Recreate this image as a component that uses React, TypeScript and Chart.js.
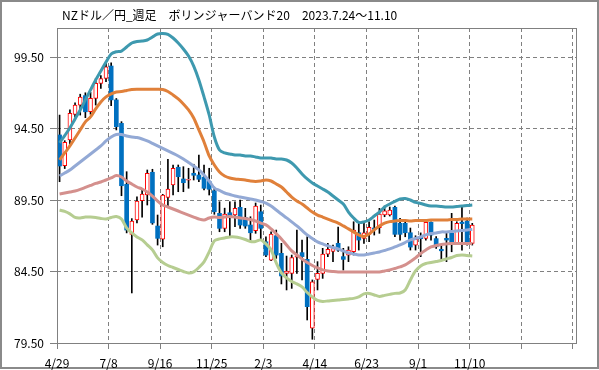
import React, { useEffect, useRef } from 'react';
import { Chart, registerables } from 'chart.js';

Chart.register(...registerables);

const chartTitle = 'NZドル／円_週足　ボリンジャーバンド20　2023.7.24〜11.10';
const xTickLabels = ['4/29', '7/8', '9/16', '11/25', '2/3', '4/14', '6/23', '9/1', '11/10', '', ''];
const yTickValues = [79.5, 84.5, 89.5, 94.5, 99.5];

const openP = [
  94.05, 91.9, 93.7, 95.49, 96.14, 96.8, 95.67, 96.61, 97.66, 98.0,
  98.87, 96.5, 94.86, 90.6, 87.1, 88.1, 89.45, 89.85, 91.44, 87.68,
  86.77, 89.69, 90.55, 91.79, 90.97, 90.88, 91.37, 91.25, 91.1, 90.8,
  90.15, 88.57, 87.52, 88.61, 88.45, 88.99, 88.29, 87.75, 87.35, 88.68,
  86.58, 85.3, 87.0, 85.77, 84.37, 84.37, 85.5, 85.82, 85.35, 80.53,
  83.95, 84.37, 85.72, 85.9, 86.47, 85.54, 85.65, 85.88, 87.21, 86.82,
  87.1, 87.54, 87.56, 88.45, 88.45, 88.99, 87.87, 87.87, 87.21, 86.35,
  86.9, 86.82, 87.94, 86.8, 86.05, 86.82, 87.17, 86.47, 87.95, 88.03,
  86.47,
];
const highP = [
  95.44, 93.65, 95.8, 96.3, 96.9, 97.0, 97.03, 98.0, 98.2, 99.06,
  99.1, 96.6, 94.98, 91.48, 88.2, 89.73, 90.32, 91.6, 91.65, 88.45,
  89.9, 92.35, 91.95, 91.95, 91.83, 91.72, 92.0, 92.65, 91.95, 91.72,
  90.4, 89.38, 88.93, 89.38, 89.38, 89.5, 88.92, 88.33, 89.29, 89.15,
  86.93, 87.28, 87.4, 86.47, 85.58, 85.65, 87.4, 86.7, 86.93, 83.91,
  85.19, 86.12, 86.47, 86.35, 87.6, 86.12, 86.23, 87.98, 87.98, 87.98,
  87.98, 88.1, 88.92, 89.08, 89.01, 89.08, 88.22, 88.15, 87.54, 87.0,
  87.2, 88.05, 87.98, 86.94, 86.35, 87.28, 88.57, 87.98, 89.08, 88.24,
  87.87,
];
const lowP = [
  90.78, 91.7, 93.4, 95.3, 95.44, 95.26, 95.5, 96.14, 97.3, 97.77,
  96.1, 94.4, 89.8, 87.2, 83.0, 87.9, 88.3, 89.15, 87.8, 86.35,
  86.23, 89.03, 89.85, 90.08, 90.08, 90.32, 90.9, 90.78, 90.2, 89.85,
  88.5, 87.28, 87.28, 87.0, 87.63, 87.52, 87.52, 86.58, 87.17, 86.7,
  85.54, 85.26, 85.42, 83.63, 83.21, 83.32, 84.37, 83.91, 81.11, 79.76,
  83.21, 84.02, 85.54, 85.19, 85.9, 84.6, 85.19, 85.65, 86.0, 86.47,
  86.58, 87.05, 87.17, 88.33, 88.38, 86.93, 86.7, 86.93, 86.0, 86.0,
  85.54, 86.7, 86.7, 86.12, 85.3, 85.19, 85.88, 86.47, 86.0, 86.35,
  86.35,
];
const closeP = [
  91.88, 93.53, 95.56, 96.14, 96.7, 95.67, 96.61, 97.66, 98.0, 98.82,
  96.5, 94.63, 90.5, 87.4, 88.03, 89.43, 89.92, 91.37, 87.9, 86.82,
  89.85, 90.27, 91.72, 91.13, 90.71, 90.93, 91.23, 90.95, 90.32, 90.25,
  88.68, 87.52, 88.52, 88.33, 88.92, 87.75, 87.68, 87.21, 89.08, 87.52,
  85.65, 87.12, 85.65, 84.19, 84.53, 85.47, 85.6, 85.54, 82.04, 83.77,
  84.37, 85.72, 86.05, 86.1, 86.0, 85.35, 86.0, 87.4, 86.7, 87.21,
  87.59, 87.45, 88.52, 88.75, 88.8, 87.1, 87.1, 87.21, 86.21, 86.75,
  86.8, 87.94, 87.05, 86.23, 85.95, 86.7, 86.47, 87.87, 87.85, 86.47,
  87.75,
];

const upper2 = [
  93.49, 94.01, 94.54, 95.17, 95.8, 96.5, 97.2, 97.9, 98.52, 99.15,
  99.71, 99.87, 99.92, 100.2, 100.48, 100.59, 100.62, 100.69, 100.9, 101.11,
  101.15, 101.08, 100.83, 100.48, 100.06, 99.57, 98.87, 97.9, 96.71, 95.45,
  93.91, 93.0, 92.79, 92.72, 92.65, 92.65, 92.58, 92.58, 92.51, 92.44,
  92.44, 92.44, 92.37, 92.37, 92.3, 92.09, 91.74, 91.32, 90.97, 90.69,
  90.48, 90.27, 90.06, 89.78, 89.5, 89.22, 88.66, 88.24, 87.93, 87.97,
  88.1, 88.38, 88.66, 89.01, 89.22, 89.4, 89.57, 89.61, 89.5, 89.33,
  89.26, 89.15, 89.08, 89.08, 89.05, 89.01, 89.01, 89.05, 89.08, 89.12,
  89.15,
];
const upper1 = [
  92.3, 92.79, 93.28, 93.84, 94.4, 94.96, 95.31, 95.87, 96.36, 96.71,
  96.92, 97.06, 97.09, 97.16, 97.23, 97.25, 97.25, 97.25, 97.25, 97.25,
  97.23, 97.09, 96.85, 96.57, 96.22, 95.8, 95.24, 94.4, 93.56, 92.58,
  91.95, 91.46, 91.18, 91.04, 90.97, 90.94, 90.9, 90.83, 90.8, 90.83,
  90.9, 90.83, 90.62, 90.41, 90.06, 89.71, 89.43, 89.22, 88.94, 88.66,
  88.45, 88.31, 88.17, 88.03, 87.89, 87.69, 87.48, 87.27, 87.06, 86.95,
  87.13, 87.41, 87.69, 87.89, 87.99, 88.03, 88.07, 88.07, 88.03, 88.07,
  88.07, 88.07, 88.1, 88.1, 88.1, 88.1, 88.14, 88.14, 88.17, 88.17,
  88.17,
];
const middle = [
  91.18, 91.39, 91.6, 91.88, 92.16, 92.44, 92.72, 93.0, 93.28, 93.63,
  93.91, 94.08, 94.08, 93.98, 93.91, 93.87, 93.77, 93.63, 93.46, 93.28,
  93.11, 92.93, 92.76, 92.58, 92.37, 92.13, 91.88, 91.6, 91.25, 90.83,
  90.34, 90.17, 89.99, 89.89, 89.78, 89.71, 89.64, 89.57, 89.5, 89.4,
  89.29, 89.08, 88.8, 88.52, 88.25, 87.97, 87.69, 87.37, 87.06, 86.81,
  86.57, 86.43, 86.29, 86.18, 86.08, 85.94, 85.8, 85.73, 85.66, 85.66,
  85.73, 85.8, 85.87, 85.97, 86.08, 86.22, 86.36, 86.53, 86.71, 86.81,
  86.92, 87.06, 87.16, 87.2, 87.27, 87.27, 87.3, 87.34, 87.37, 87.41,
  87.44,
];
const lower1 = [
  89.92, 89.99, 90.06, 90.13, 90.24, 90.38, 90.52, 90.66, 90.76, 90.9,
  91.04, 91.22, 91.11, 90.83, 90.62, 90.41, 90.27, 90.06, 89.78, 89.43,
  89.15, 89.01, 88.87, 88.73, 88.59, 88.45, 88.31, 88.17, 88.1, 88.24,
  88.31, 88.28, 88.31, 88.35, 88.31, 88.24, 88.21, 88.14, 88.03, 87.89,
  87.76, 87.48, 87.13, 86.78, 86.36, 85.94, 85.66, 85.38, 85.13, 84.92,
  84.75, 84.61, 84.54, 84.5, 84.47, 84.47, 84.47, 84.47, 84.47, 84.47,
  84.47, 84.47, 84.47, 84.54, 84.61, 84.71, 84.82, 84.96, 85.2, 85.45,
  85.76, 86.01, 86.22, 86.32, 86.39, 86.43, 86.46, 86.46, 86.46, 86.46,
  86.46,
];
const lower2 = [
  88.8, 88.7, 88.53, 88.28, 88.25, 88.31, 88.31, 88.28, 88.21, 88.17,
  88.28, 88.35, 88.17, 87.55, 87.2, 86.92, 86.71, 86.36, 86.01, 85.45,
  85.13, 84.92, 84.78, 84.64, 84.5, 84.4, 84.47, 84.78, 85.17, 85.87,
  86.64, 86.78, 86.85, 86.92, 86.92, 86.85, 86.74, 86.6, 86.6, 86.71,
  86.43, 86.01, 85.1, 84.4, 84.05, 83.8, 83.63, 83.42, 83.03, 82.72,
  82.48, 82.41, 82.44, 82.48, 82.51, 82.55, 82.58, 82.62, 82.72, 82.93,
  82.97, 82.86, 82.76, 82.83, 82.9, 82.97, 83.0, 83.21, 83.91, 84.54,
  84.89, 85.06, 85.13, 85.2, 85.27, 85.38, 85.48, 85.62, 85.66, 85.62,
  85.59,
];

const FONT = '"Noto Sans CJK JP", "Noto Sans", sans-serif';
const UP_COLOR = '#FF0000';
const DOWN_COLOR = '#0070C0';
const GRID_COLOR = '#808080';

const toPoints = (arr: number[]) => arr.map((v, i) => ({ x: i, y: v }));

const bandLine = (data: number[], color: string) => ({
  type: 'line' as const,
  data: toPoints(data),
  borderColor: color,
  backgroundColor: color,
  borderWidth: 3,
  pointRadius: 0,
  tension: 0.3,
  fill: false,
  order: 0,
});

const framePlugin = {
  id: 'frame',
  beforeDraw(chart: any) {
    const { ctx, width, height } = chart;
    ctx.save();
    ctx.fillStyle = '#ffffff';
    ctx.fillRect(0, 0, width, height);
    ctx.strokeStyle = '#8a8a8a';
    ctx.lineWidth = 2;
    ctx.strokeRect(1, 1, width - 2, height - 3);
    ctx.restore();
  },
  afterDraw(chart: any) {
    const { ctx, chartArea: a } = chart;
    ctx.save();
    ctx.strokeStyle = GRID_COLOR;
    ctx.lineWidth = 1;
    ctx.setLineDash([]);
    ctx.strokeRect(
      Math.round(a.left) + 0.5,
      Math.round(a.top) + 0.5,
      Math.round(a.right - a.left) - 1,
      Math.round(a.bottom - a.top)
    );
    ctx.font = `12px ${FONT}`;
    ctx.fillStyle = '#000000';
    ctx.textBaseline = 'middle';
    ctx.textAlign = 'left';
    ctx.fillText(chartTitle, a.left + 5, 15);
    ctx.restore();
  },
};

export default function App() {
  const ref = useRef<HTMLCanvasElement>(null);

  useEffect(() => {
    document.body.style.margin = '0';
    const canvas = ref.current;
    if (!canvas) return;
    Chart.defaults.font.family = FONT;
    Chart.defaults.font.size = 12;
    Chart.defaults.color = '#000000';

    const isUp = (i: number) => closeP[i] >= openP[i];

    const chart = new Chart(canvas, {
      type: 'bar',
      data: {
        datasets: [
          bandLine(upper2, '#3E99AF'),
          bandLine(upper1, '#E0803A'),
          bandLine(middle, '#93A9D5'),
          bandLine(lower1, '#D4908D'),
          bandLine(lower2, '#B6CD91'),
          {
            type: 'bar',
            data: openP.map((o, i) => ({ x: i, y: [o, closeP[i]] })),
            backgroundColor: (c: any) => (isUp(c.dataIndex) ? '#FFFFFF' : DOWN_COLOR),
            borderColor: (c: any) => (isUp(c.dataIndex) ? UP_COLOR : DOWN_COLOR),
            borderWidth: (c: any) => (isUp(c.dataIndex) ? 1 : 0),
            borderSkipped: false,
            barThickness: 4,
            grouped: false,
            minBarLength: 1,
            order: 2,
          } as any,
          {
            type: 'bar',
            data: lowP.map((l, i) => ({ x: i, y: [l, highP[i]] })),
            backgroundColor: '#000000',
            borderWidth: 0,
            barThickness: 1,
            grouped: false,
            order: 3,
          } as any,
        ],
      },
      options: {
        responsive: false,
        animation: false,
        devicePixelRatio: 1,
        events: [],
        layout: { padding: { top: 28, right: 22, left: 0, bottom: 0 } },
        plugins: {
          legend: { display: false },
          tooltip: { enabled: false },
          title: { display: false },
        },
        scales: {
          x: {
            type: 'linear',
            min: -0.5,
            max: 100.3,
            offset: false,
            grid: {
              color: GRID_COLOR,
              lineWidth: 1,
              offset: false,
              drawTicks: true,
              tickLength: 6,
              tickColor: GRID_COLOR,
              tickBorderDash: [],
            },
            border: { display: false, dash: [4, 3] },
            afterBuildTicks: (s: any) => {
              s.ticks = xTickLabels.map((_, k) => ({ value: k * 10 - 0.5 }));
            },
            ticks: {
              autoSkip: false,
              maxRotation: 0,
              padding: 7,
              color: '#000000',
              font: { family: FONT, size: 12 },
              callback: (_v: any, idx: number) => xTickLabels[idx] ?? '',
            },
            afterFit: (s: any) => {
              s.height = 27;
            },
          },
          y: {
            type: 'linear',
            min: 79.5,
            max: 101.53,
            grid: {
              color: GRID_COLOR,
              lineWidth: 1,
              drawTicks: true,
              tickLength: 7,
              tickColor: GRID_COLOR,
              tickBorderDash: [],
            },
            border: { display: false, dash: [4, 3] },
            afterBuildTicks: (s: any) => {
              s.ticks = yTickValues.map((v) => ({ value: v }));
            },
            ticks: {
              padding: 6,
              color: '#000000',
              font: { family: FONT, size: 12 },
              callback: (v: any) => Number(v).toFixed(2),
            },
            afterFit: (s: any) => {
              s.width = 57;
            },
          },
        },
      } as any,
      plugins: [framePlugin],
    });

    return () => chart.destroy();
  }, []);

  return (
    <div style={{ width: 599, height: 370 }}>
      <canvas ref={ref} width={599} height={370} style={{ display: 'block', width: 599, height: 370 }} />
    </div>
  );
}
